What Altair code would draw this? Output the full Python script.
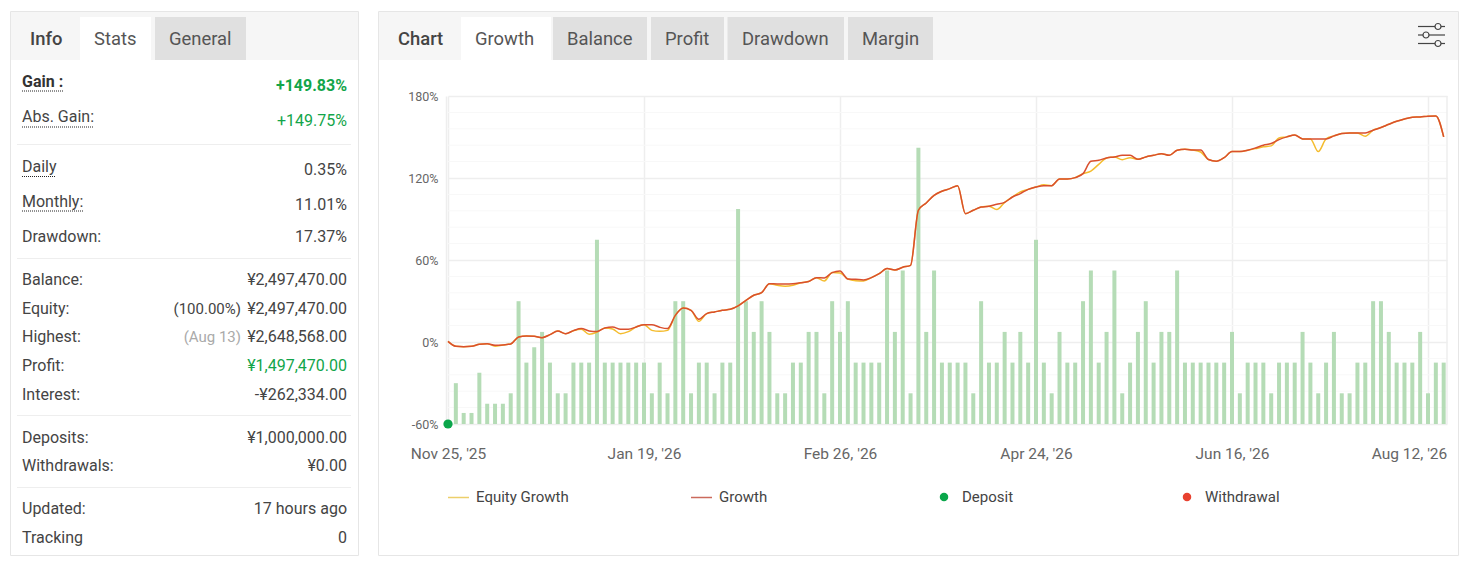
import altair as alt
import pandas as pd

# ---- chart data -------------------------------------------------------
growth = [0.5,-3.1,-3.4,-3.1,-1.7,-1.2,-2.4,-2.2,-1.4,3.7,4.4,4.2,3.2,5.4,8.1,6.1,8.3,9.8,8.1,7.6,
          10.3,11.0,9.3,9.3,11.0,12.7,12.7,10.8,9.8,19.5,24.9,23.2,16.6,20.8,22.0,23.2,23.9,26.4,30.5,34.2,
          36.1,42.7,42.5,42.5,42.7,43.4,44.2,47.1,46.9,50.8,52.0,46.1,45.9,45.4,47.1,50.0,53.7,52.7,54.7,56.1,
          96.4,101.7,107.3,110.3,112.2,114.4,93.9,96.4,98.8,99.3,100.8,102.2,106.1,108.6,111.7,113.4,114.4,114.4,119.3,119.3,
          120.3,123.2,132.2,133.0,134.7,135.4,136.6,136.6,133.7,135.4,136.6,137.8,136.6,140.3,141.0,140.5,140.4,133.5,132.3,134.9,
          139.3,139.3,140.3,142.0,144.0,145.2,148.1,150.1,151.5,148.6,148.6,148.6,148.6,150.8,152.5,153.0,153.0,153.0,155.0,156.9,
          159.3,161.5,163.2,164.5,164.7,165.2,165.4,150.1]
equity = [0.5,-3.1,-3.4,-3.1,-1.7,-1.2,-3.1,-2.2,-1.4,3.7,4.4,4.2,3.2,5.4,8.1,6.1,8.3,9.3,5.6,7.1,
          10.3,9.5,6.1,7.6,11.0,12.7,8.5,7.8,8.5,19.5,24.9,23.2,15.1,20.8,22.0,23.2,23.9,26.4,30.5,34.2,
          36.1,42.7,41.5,40.8,41.5,43.4,44.2,47.1,44.7,50.8,50.5,46.1,44.9,44.7,47.1,50.0,53.7,52.7,54.7,56.1,
          96.4,101.7,107.3,110.3,112.2,114.4,93.9,96.4,98.8,99.3,96.9,102.2,106.1,109.8,111.7,113.4,115.1,114.4,119.3,119.3,
          120.3,123.2,125.1,130.0,134.7,135.4,133.4,134.9,133.7,135.4,136.6,137.8,136.6,140.3,141.0,140.5,139.0,133.5,132.3,134.9,
          139.3,139.3,140.3,141.5,142.8,143.5,149.3,150.1,151.5,148.6,148.6,139.3,148.6,150.8,152.5,153.0,153.0,150.6,155.0,156.9,
          159.3,161.5,163.2,164.5,164.7,165.2,165.4,150.1]
bars = [1.33,0.36,0.36,1.67,0.66,0.66,0.66,1,4,2,2.5,3,2,1,1,2,2,2,6,2,2,2,2,2,2,1,2,1,
        4,4,1,2,2,1,2,2,7,4,3,4,3,1,1,2,2,3,3,1,4,3,4,2,2,2,2,5,3,5,1,9,3,5,
        2,2,2,2,1,4,2,2,3,2,3,2,6,2,1,3,2,2,4,5,2,3,5,1,2,3,4,2,3,3,5,2,2,2,2,
        2,2,3,1,2,2,2,1,2,2,2,3,2,1,2,3,1,1,2,2,4,4,3,2,2,2,3,1,2,2]
x_ticks = [0, 25, 50, 75, 100, 125]
x_labels = ["Nov 25, '25", "Jan 19, '26", "Feb 26, '26", "Apr 24, '26", "Jun 16, '26", "Aug 12, '26"]
y_major = [-60, 0, 60, 120, 180]
y_minor = [-48,-36,-24,-12,12,24,36,48,72,84,96,108,132,144,156,168]

stat_rows = [
    ("Balance:", 280, "\u00a52,497,470.00", "#444444"),
    ("Equity:", 309, "\u00a52,497,470.00", "#444444"),
    ("Highest:", 337, "\u00a52,648,568.00", "#444444"),
    ("Profit:", 366, "\u00a51,497,470.00", "#12a54a"),
    ("Interest:", 395, "-\u00a5262,334.00", "#444444"),
    ("Deposits:", 438, "\u00a51,000,000.00", "#444444"),
    ("Withdrawals:", 466, "\u00a50.00", "#444444"),
    ("Updated:", 509, "17 hours ago", "#444444"),
    ("Tracking", 538, "0", "#444444"),
]

# ---- layout of the page ----------------------------------------------
PL, PT = 448, 96      # plot's top-left corner in page pixels
W, H = 999, 328
RIGHT = 1458.5        # the drawing can reach this far in the page
FONT = "Roboto"
blank = alt.Data(values=[{}])

def px(v): return alt.value(v - PL)
def py(v): return alt.value(v - PT)

def rect(x0, y0, x1, y1, **kw):
    return alt.Chart(blank).mark_rect(**kw).encode(x=px(x0), x2=px(x1), y=py(y0), y2=py(y1))

def hline(x0, x1, y, color="#eeeeee", width=1, **kw):
    return alt.Chart(blank).mark_rule(color=color, strokeWidth=width, **kw).encode(x=px(x0), x2=px(x1), y=py(y))

def text(s, x, y, size=16, color="#444444", align="left", weight="normal"):
    return alt.Chart(blank).mark_text(font=FONT, fontSize=size, color=color, align=align,
                                      baseline="middle", fontWeight=weight).encode(
        x=px(x), y=py(y), text=alt.value(s))

def dot(x, y, size, **kw):
    return alt.Chart(blank).mark_point(filled=True, **kw).encode(x=px(x), y=py(y), size=alt.value(size))

layers = []
# panels
layers += [rect(10.5, 11.5, 358.5, 555.5, fill="#ffffff", fillOpacity=0, stroke="#e6e6e6", strokeWidth=1),
           rect(378.5, 11.5, RIGHT, 555.5, fill="#ffffff", fillOpacity=0, stroke="#e6e6e6", strokeWidth=1),
           rect(11, 12, 358, 60, fill="#f6f6f6"),
           rect(379, 12, RIGHT - 0.5, 60, fill="#f6f6f6"),
           rect(80, 17, 151, 60, fill="#ffffff"),
           rect(155, 17, 246, 60, fill="#e0e0e0"),
           rect(461, 17, 551, 60, fill="#ffffff")]
for a, b in [(553, 647), (651, 724), (727.5, 844), (848, 933)]:
    layers.append(rect(a, 17, b, 60, fill="#e0e0e0"))
# tab captions
TAB = 18.4
layers += [text("Info", 30, 39, TAB, "#444444", weight=500),
           text("Stats", 94, 39, TAB, "#555555"),
           text("General", 169, 39, TAB, "#555555"),
           text("Chart", 398, 39, TAB, "#444444", weight=500),
           text("Growth", 475, 39, TAB, "#555555"),
           text("Balance", 567, 39, TAB, "#555555"),
           text("Profit", 665, 39, TAB, "#555555"),
           text("Drawdown", 742, 39, TAB, "#555555"),
           text("Margin", 862, 39, TAB, "#555555")]
# settings icon
for y_, cx in [(26.5, 1438), (35, 1426), (43.5, 1438)]:
    layers.append(hline(1418, 1445, y_, "#444444", 1.2))
    layers.append(dot(cx, y_, 36, fill="#f6f6f6", stroke="#444444", strokeWidth=1.2, opacity=1, fillOpacity=1))
# stats
layers += [text("Gain :", 22, 82, 16, "#333333", weight=700),
           text("+149.83%", 347, 86, 16, "#12a54a", "right", 700),
           text("Abs. Gain:", 22, 117, 16),
           text("+149.75%", 347, 121, 16, "#12a54a", "right"),
           text("Daily", 22, 167, 16),
           text("0.35%", 347, 170, 16, "#444444", "right"),
           text("Monthly:", 22, 202, 16),
           text("11.01%", 347, 205, 16, "#444444", "right"),
           text("Drawdown:", 22, 236.5, 16),
           text("17.37%", 347, 236.5, 16, "#444444", "right")]
for label, y_, val, col in stat_rows:
    layers.append(text(label, 22, y_, 16))
    layers.append(text(val, 347, y_, 16, col, "right"))
layers += [text("(100.00%)", 241, 309, 15, "#444444", "right"),
           text("(Aug 13)", 241, 337, 15, "#aaaaaa", "right")]
for y_ in [144.5, 258.5, 415.5, 487.5]:
    layers.append(hline(17, 351, y_, "#eeeeee", 1))
for x1, y_ in [(63, 91), (94, 127), (56, 176.5), (84, 211)]:
    layers.append(hline(22, x1, y_, "#222222", 1, strokeDash=[1, 1]))

# ---- the chart --------------------------------------------------------
x_enc = alt.X("i:Q", scale=alt.Scale(domain=[0, W / 7.84], nice=False, zero=False, padding=0), title=None,
              axis=alt.Axis(values=x_ticks, grid=True, gridColor="#eeeeee", gridWidth=1.5, domain=False, ticks=False,
                            labelFont=FONT, labelFontSize=15.5, labelColor="#666666", labelPadding=22, labelOverlap=False,
                            labelFlush=False,
                            labelExpr="[" + ",".join('"%s"' % s for s in x_labels) + "][indexof([" +
                                      ",".join(str(t) for t in x_ticks) + "], datum.value)]",
                            labelOffset={"condition": {"test": "datum.value === 125", "value": -19}, "value": 0}))
y_scale = alt.Scale(domain=[-60, 180], nice=False, zero=False)
y_plain = alt.Y("v:Q", scale=y_scale, title=None, axis=None)
y_axis_def = alt.Axis(values=y_major, grid=True, gridColor="#eeeeee", gridWidth=1.5, domain=True,
                      domainColor="#eeeeee", domainWidth=1.5, offset=2, ticks=False, labelFont=FONT,
                      labelFontSize=12.5, labelColor="#666666", labelPadding=8,
                      labelExpr="datum.value + '%'")

n = len(growth)
df_line = pd.DataFrame({"i": list(range(n)), "growth": growth, "equity": equity})
df_bar = pd.DataFrame({"i": list(range(1, len(bars) + 1)), "n": bars})
df_minor = pd.DataFrame({"v": y_minor})

layers.append(alt.Chart(df_minor).mark_rule(color="#f8f8f8", strokeWidth=1).encode(y=y_plain))
layers.append(alt.Chart(blank).mark_rule(color="#eeeeee", strokeWidth=1.5).encode(x=alt.value(W), y=alt.value(0), y2=alt.value(H)))
layers.append(alt.Chart(df_bar).mark_bar(size=4, color="#b5dcb6").encode(
    x=x_enc,
    y=alt.Y("n:Q", scale=alt.Scale(domain=[0, H / 30.7], nice=False), title=None, axis=None)))
layers.append(alt.Chart(df_line).mark_line(color="#f4bc2e", strokeWidth=1.5, interpolate="monotone").encode(
    x=x_enc, y=alt.Y("equity:Q", scale=y_scale, title=None, axis=None)))
layers.append(alt.Chart(df_line).mark_line(color="#d94f2e", strokeWidth=1.5, interpolate="monotone").encode(
    x=x_enc, y=alt.Y("growth:Q", scale=y_scale, title=None, axis=y_axis_def)))
layers.append(alt.Chart(pd.DataFrame({"i": [0], "v": [-60]})).mark_point(
    filled=True, size=85, color="#0aa64a", opacity=1, clip=False).encode(x=x_enc, y=y_plain))

# legend
layers += [hline(448, 469, 497.5, "#eccf6a", 1.5), text("Equity Growth", 476, 497, 15),
           hline(691, 712, 497.5, "#cb6a5c", 1.5), text("Growth", 719, 497, 15),
           dot(944, 497, 72, color="#0aa64a", opacity=1), text("Deposit", 962, 497, 15),
           dot(1187, 497, 72, color="#e8412f", opacity=1), text("Withdrawal", 1205, 497, 15)]

chart = alt.layer(*layers).resolve_scale(y="independent").properties(
    width=W, height=H,
    background="#ffffff",
    autosize=alt.AutoSizeParams(type="none"),
    padding={"left": PL - 8, "top": PT - 8, "right": 1459 - PL - W, "bottom": 556 - PT - H},
).configure_view(strokeWidth=0)

chart.save("out.html", embed_options={"renderer": "svg", "actions": False})
